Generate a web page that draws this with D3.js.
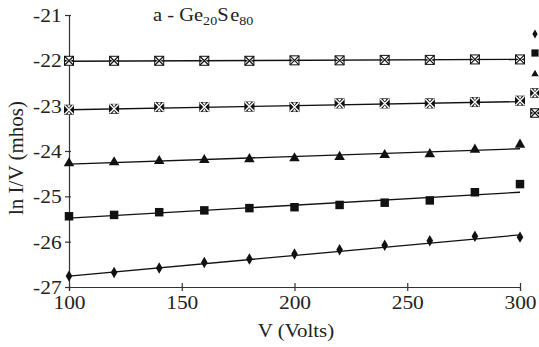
<!DOCTYPE html>
<html>
<head>
<meta charset="utf-8">
<script src="https://cdn.jsdelivr.net/npm/d3@7"></script>
<style>
  body { margin: 0; background: #fff; }
  text { font-family: "Liberation Serif", "DejaVu Serif", serif; fill: #222; }
</style>
</head>
<body>
<div id="chart"></div>
<script>
// voltage points (Volts)
const volts = [100, 120, 140, 160, 180, 200, 220, 240, 260, 280, 300];

// ln I/V values, one array per series
const diamondVals  = [-26.76, -26.68, -26.58, -26.46, -26.38, -26.27, -26.18, -26.08, -25.98, -25.88, -25.90];
const squareVals   = [-25.44, -25.41, -25.35, -25.31, -25.26, -25.24, -25.19, -25.14, -25.09, -24.91, -24.73];
const triangleVals = [-24.27, -24.25, -24.22, -24.20, -24.18, -24.16, -24.13, -24.09, -24.07, -23.97, -23.86];
const crossAVals   = [-23.09, -23.07, -23.03, -23.03, -23.02, -23.03, -22.95, -22.95, -22.95, -22.92, -22.89];
const crossBVals   = [-22.01, -22.01, -22.01, -22.01, -22.01, -22.00, -22.00, -21.99, -21.99, -21.98, -21.98];

// fitted straight lines: values at V = 100 and V = 300
const fitEnds = [100, 300];
const diamondFit  = [-26.76, -25.85];
const squareFit   = [-25.48, -24.91];
const triangleFit = [-24.29, -23.95];
const crossAFit   = [-23.09, -22.91];
const crossBFit   = [-22.02, -21.98];

const xTicks = [100, 150, 200, 250, 300];
const yTicks = [-27, -26, -25, -24, -23, -22, -21];

const width = 539, height = 347;
const margin = ({ top: 15, right: 19, bottom: 60, left: 69 });

let svg = d3.select("#chart")
    .append("svg")
    .attr("width", width)
    .attr("height", height);

let x = d3.scaleLinear()
    .domain([100, 300])
    .range([margin.left, width - margin.right]);

let y = d3.scaleLinear()
    .domain([-27, -21])
    .range([height - margin.bottom, margin.top]);

// axes, ticks cross the axis line
let xAxis = svg.append("g")
    .attr("transform", `translate(0,${y(-27)})`)
    .call(d3.axisBottom(x).tickValues(xTicks).tickSize(4).tickPadding(5));
xAxis.selectAll(".tick line").attr("y1", -4);

let yAxis = svg.append("g")
    .attr("transform", `translate(${x(100)},0)`)
    .call(d3.axisLeft(y).tickValues(yTicks).tickSize(4).tickPadding(3).tickFormat(d => String(d)));
yAxis.selectAll(".tick line").attr("x1", 2);

[xAxis, yAxis].forEach(a => {
    a.attr("font-family", null);
    a.select(".domain").attr("stroke", "#333").attr("stroke-width", 1.2);
    a.selectAll(".tick line").attr("stroke", "#333").attr("stroke-width", 1.2);
    a.selectAll(".tick text")
        .style("font-family", "'Liberation Serif', serif")
        .style("font-size", "19px")
        .attr("fill", "#222")
        .attr("transform", "scale(1.13,1)");
});
yAxis.selectAll(".tick text").attr("dy", "0.34em").attr("x", -6.5);

// labels
svg.append("text")
    .attr("transform", "translate(296,337) scale(1.1,1)")
    .attr("text-anchor", "middle")
    .style("font-size", "19px")
    .text("V (Volts)");

svg.append("text")
    .attr("transform", "translate(23,158) rotate(-90)")
    .attr("text-anchor", "middle")
    .style("font-size", "21px")
    .text("ln I/V (mhos)");

let title = svg.append("text")
    .attr("transform", "translate(153,21) scale(1.08,1)")
    .style("font-size", "19px");
title.append("tspan").text("a - Ge");
title.append("tspan").attr("dy", 4).style("font-size", "13px").text("20");
title.append("tspan").attr("dy", -4).text("S");
title.append("tspan").attr("dx", 1.5).text("e");
title.append("tspan").attr("dy", 4).style("font-size", "13px").text("80");

// fitted lines
let line = d3.line()
    .x(d => x(d[0]))
    .y(d => y(d[1]));

[diamondFit, squareFit, triangleFit, crossAFit, crossBFit].forEach(fit => {
    svg.append("path")
        .datum(d3.zip(fitEnds, fit))
        .attr("d", line)
        .attr("fill", "none")
        .attr("stroke", "#111")
        .attr("stroke-width", 1.3);
});

// marker drawing
function drawMarker(g, kind, scale) {
    const s = scale || 1;
    if (kind === "diamond") {
        g.append("path").attr("d", d3.symbol(d3.symbolDiamond, 38 * s * s)()).attr("fill", "#111");
    } else if (kind === "square") {
        g.append("path").attr("d", d3.symbol(d3.symbolSquare, 72 * s * s)()).attr("fill", "#111");
    } else if (kind === "triangle") {
        g.append("path").attr("d", d3.symbol(d3.symbolTriangle, 48 * s * s)()).attr("fill", "#111");
    } else {
        const h = 4.5 * s;
        const dark = kind === "crossA";
        g.append("rect")
            .attr("x", -h).attr("y", -h).attr("width", 2 * h).attr("height", 2 * h)
            .attr("fill", dark ? "#111" : "#fff")
            .attr("stroke", "#111").attr("stroke-width", 1);
        g.append("path")
            .attr("d", `M${-h},${-h}L${h},${h}M${-h},${h}L${h},${-h}`)
            .attr("stroke", dark ? "#fff" : "#111")
            .attr("stroke-width", dark ? 1.4 : 1.2);
        if (!dark) {
            g.append("path")
                .attr("d", `M${-h},${-h * 0.3}L${-h * 0.3},0L${-h},${h * 0.3}Z M${h},${-h * 0.3}L${h * 0.3},0L${h},${h * 0.3}Z`)
                .attr("fill", "#111");
        } else {
            g.append("path")
                .attr("d", `M${-h * 0.4},${-h}L0,${-h * 0.4}L${h * 0.4},${-h}Z M${-h * 0.4},${h}L0,${h * 0.4}L${h * 0.4},${h}Z`)
                .attr("fill", "#fff");
        }
    }
}

const series = [
    { kind: "diamond", vals: diamondVals },
    { kind: "square", vals: squareVals },
    { kind: "triangle", vals: triangleVals },
    { kind: "crossA", vals: crossAVals },
    { kind: "crossB", vals: crossBVals }
];

series.forEach(s => {
    let pts = svg.selectAll(null)
        .data(d3.zip(volts, s.vals))
        .join("g")
        .attr("transform", d => `translate(${x(d[0])},${y(d[1])})`);
    pts.each(function () { drawMarker(d3.select(this), s.kind); });
});

// legend markers (labels fall outside the frame)
const legendY = [34, 53, 74, 93, 113];
const legendScale = [0.8, 0.85, 0.7, 0.95, 0.95];
series.forEach((s, i) => {
    let g = svg.append("g").attr("transform", `translate(535,${legendY[i]})`);
    drawMarker(g, s.kind, legendScale[i]);
});
</script>
</body>
</html>
